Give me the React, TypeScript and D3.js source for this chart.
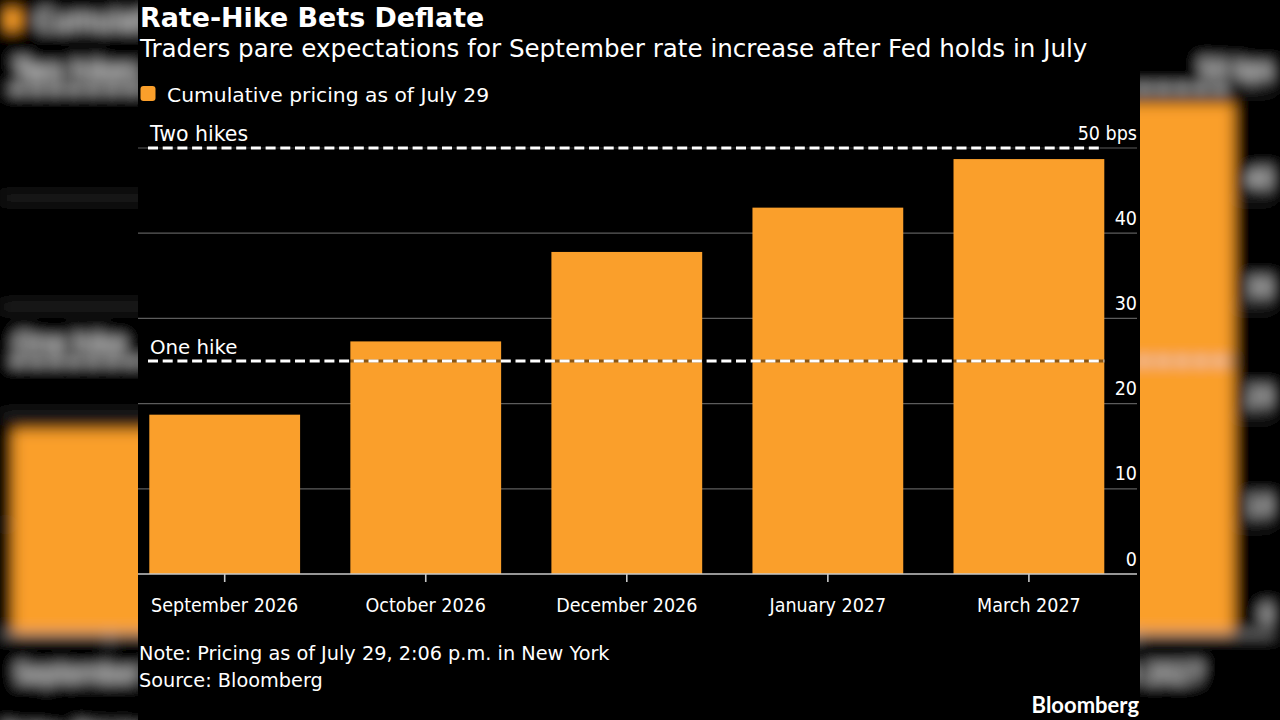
import React from "react";
import * as d3 from "d3";

// Cumulative Fed hike pricing by meeting month (basis points)
const meetings = ["September 2026", "October 2026", "December 2026", "January 2027", "March 2027"];
const pricingBps = [18.7, 27.3, 37.8, 43.0, 48.7];
const yTicks = [0, 10, 20, 30, 40, 50];
const hikeLabels = ["One hike", "Two hikes"];
const hikeLevels = [25, 50];

const W = 1280;
const H = 720;
const PANEL_X = 138;
const PANEL_W = 1002;
const ORANGE = "#fa9f2b";
const FONT = "'DejaVu Sans', sans-serif";
const FONT_COND = "'DejaVu Sans Condensed', 'DejaVu Sans', sans-serif";

const x = d3.scaleBand<string>().domain(meetings).range([149.3, 1104.3]).paddingInner(0.25).paddingOuter(0);
const y = d3.scaleLinear().domain([0, 50]).range([574, 148]);

const gridLeft = 138;
const gridRight = 1137;

function Chart() {
  return (
    <g fontFamily={FONT}>
      {/* titles */}
      <text x={140} y={27} fill="#fff" fontSize={26.9} fontWeight="bold">Rate-Hike Bets Deflate</text>
      <text x={140} y={57} fill="#fff" fontSize={24.6}>
        Traders pare expectations for September rate increase after Fed holds in July
      </text>

      {/* legend */}
      <rect x={140.5} y={86} width={15} height={15} rx={3} fill={ORANGE} />
      <text x={167} y={101.5} fill="#fff" fontSize={20.3}>Cumulative pricing as of July 29</text>

      {/* gridlines */}
      {yTicks.filter((t) => t > 0).map((t) => (
        <line key={`g${t}`} x1={gridLeft} x2={gridRight} y1={y(t)} y2={y(t)} stroke="#5c5c5c" strokeWidth={1.2} />
      ))}

      {/* y tick labels */}
      <g fontFamily={FONT_COND} style={{ fontStretch: "condensed" }}>
        {yTicks.map((t) => (
          <text key={`t${t}`} x={gridRight} y={y(t) - 8.5} fill="#fff" fontSize={19.5} textAnchor="end">
            {t === 50 ? `${t} bps` : t}
          </text>
        ))}
      </g>

      {/* bars */}
      {meetings.map((m, i) => (
        <rect key={m} x={x(m)} y={y(pricingBps[i])} width={x.bandwidth()} height={y(0) - y(pricingBps[i])} fill={ORANGE} />
      ))}

      {/* hike reference lines */}
      {hikeLevels.map((v, i) => {
        const x2 = v === 50 ? 1100 : 1104.3;
        return (
          <g key={`h${v}`}>
            <line x1={148} x2={x2} y1={y(v)} y2={y(v)} stroke="#000" strokeOpacity={0.45} strokeWidth={3} />
            <line x1={148} x2={x2} y1={y(v)} y2={y(v)} stroke="#fff" strokeWidth={3} strokeDasharray="10 4.7" />
            <text x={150} y={y(v) - 7.5} fill="#fff" fontSize={v === 50 ? 20.5 : 19.8}>{hikeLabels[i]}</text>
          </g>
        );
      })}

      {/* x axis */}
      <line x1={gridLeft} x2={gridRight} y1={y(0)} y2={y(0)} stroke="#c8c8c8" strokeWidth={1.6} />
      <g fontFamily={FONT_COND} style={{ fontStretch: "condensed" }}>
        {meetings.map((m) => {
          const cx = (x(m) as number) + x.bandwidth() / 2;
          return (
            <g key={`x${m}`}>
              <line x1={cx} x2={cx} y1={y(0)} y2={y(0) + 8} stroke="#c8c8c8" strokeWidth={1.6} />
              <text x={cx} y={612} fill="#fff" fontSize={19.5} textAnchor="middle">{m}</text>
            </g>
          );
        })}
      </g>

      {/* footnotes */}
      <text x={139} y={660} fill="#fff" fontSize={19.3}>Note: Pricing as of July 29, 2:06 p.m. in New York</text>
      <text x={139} y={687} fill="#fff" fontSize={19.3}>Source: Bloomberg</text>
      <text x={1139} y={713} fill="#fff" fontSize={22} fontWeight="bold" textAnchor="end" fontFamily="Lato, 'Open Sans', sans-serif">
        Bloomberg
      </text>
    </g>
  );
}

export default function App() {
  const s = W / PANEL_W;
  return (
    <div style={{ position: "fixed", left: 0, top: 0, width: W, height: H, background: "#000" }}>
      <svg width={W} height={H} viewBox={`0 0 ${W} ${H}`} style={{ display: "block" }}>
        <defs>
          <filter id="bgBlur" filterUnits="userSpaceOnUse" x={-200} y={-200} width={W + 400} height={H + 400}>
            <feGaussianBlur stdDeviation={7} />
          </filter>
        </defs>
        <rect width={W} height={H} fill="#000" />
        {/* enlarged, softened backdrop of the same chart */}
        <g filter="url(#bgBlur)">
          <g transform={`translate(${W / 2},${H / 2}) scale(${s}) translate(${-W / 2},${-H / 2})`}>
            <rect x={PANEL_X} y={0} width={PANEL_W} height={H} fill="#000" />
            <Chart />
          </g>
        </g>
        {/* main panel */}
        <rect x={PANEL_X} y={0} width={PANEL_W} height={H} fill="#000" />
        <Chart />
      </svg>
    </div>
  );
}
